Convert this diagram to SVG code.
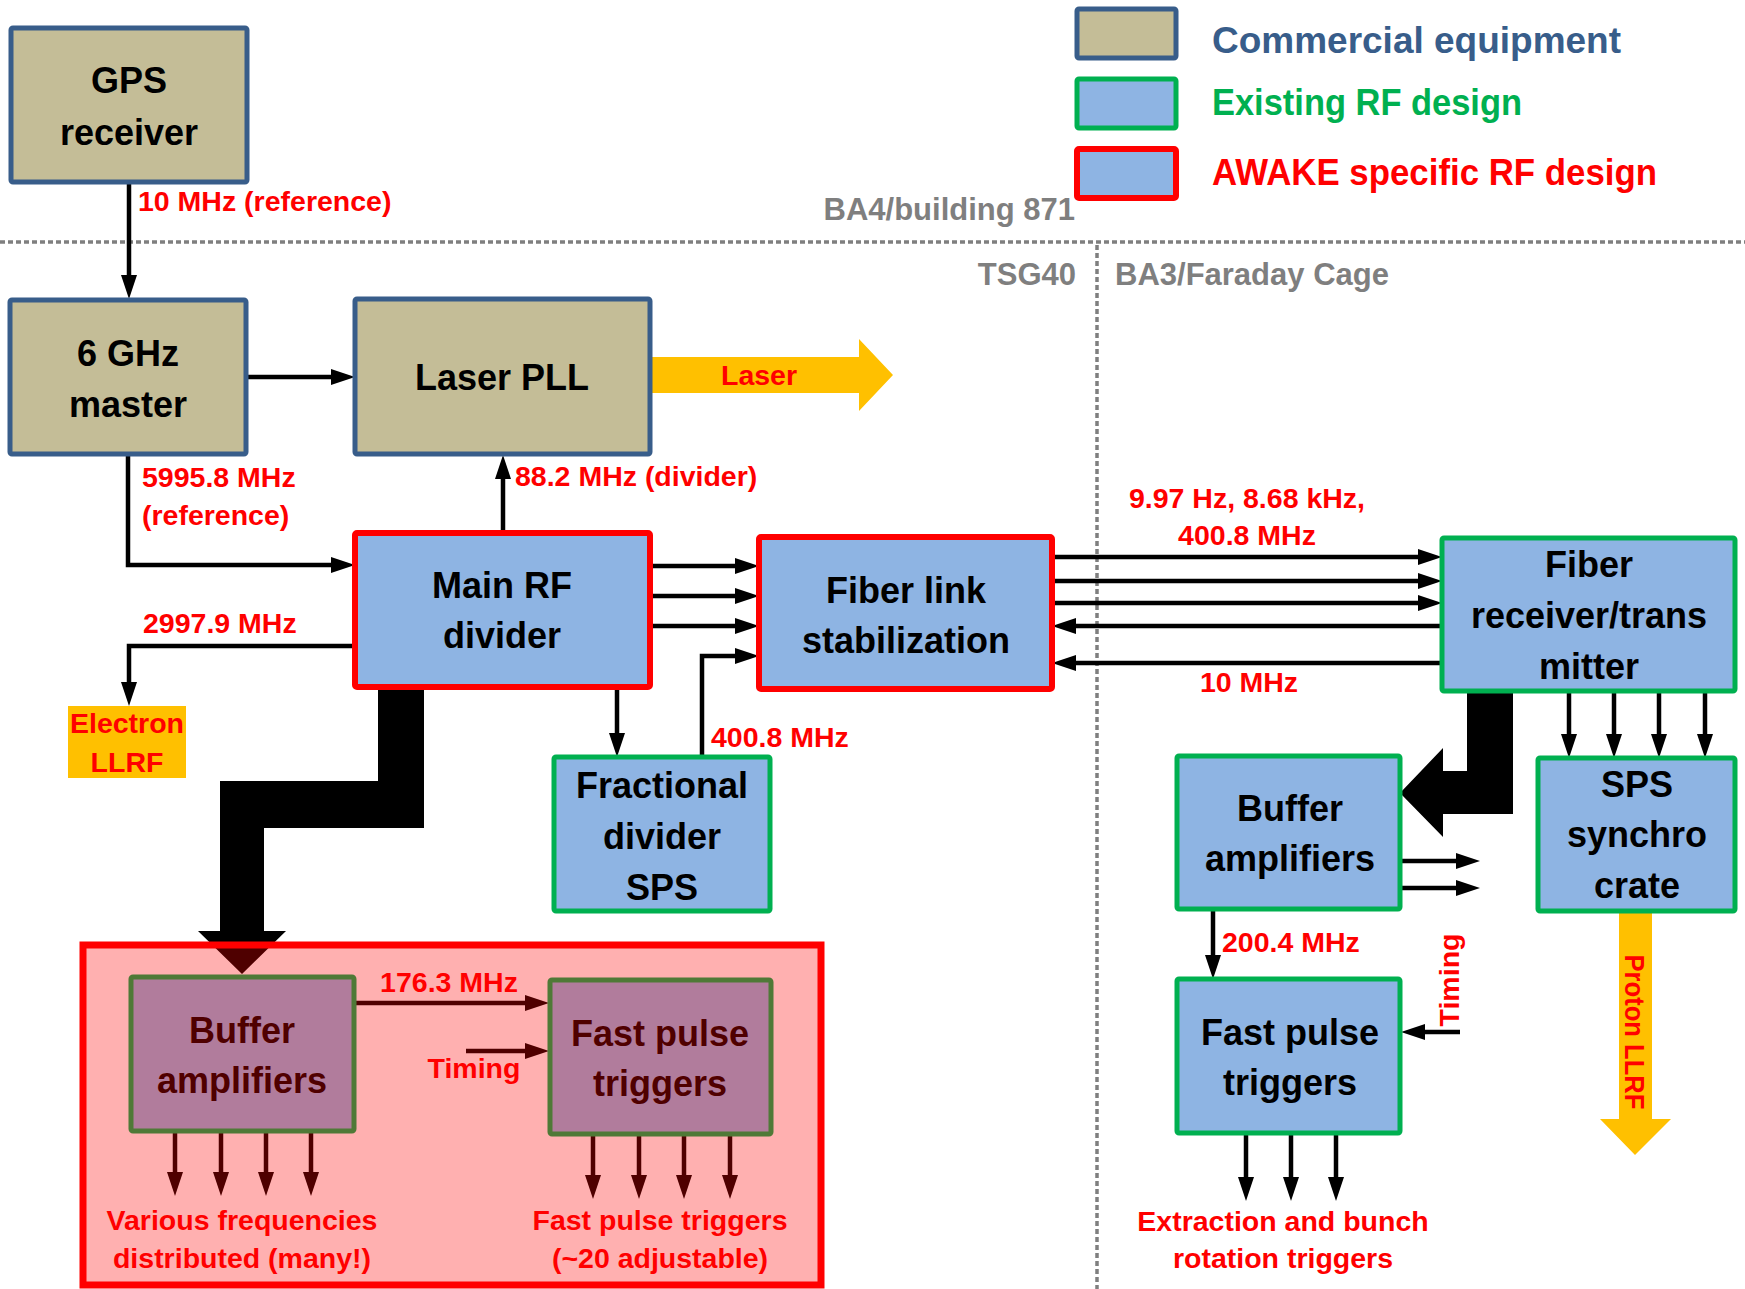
<svg xmlns="http://www.w3.org/2000/svg" width="1745" height="1289" viewBox="0 0 1745 1289">
<defs>
<style>
text{font-family:"Liberation Sans",Arial,sans-serif;font-weight:bold}
.nt{font-size:36px;fill:#000;text-anchor:middle}
.lb{font-size:28.5px;fill:#FF0000}
.gy{font-size:31px;fill:#7F7F7F}
.com{fill:#C4BD97;stroke:#385D8A;stroke-width:5}
.ex{fill:#8EB4E3;stroke:#00B050;stroke-width:5}
.aw{fill:#8EB4E3;stroke:#FF0000;stroke-width:6}
.ln{fill:none;stroke:#000;stroke-width:4.5;marker-end:url(#ah)}
.dot{stroke:#7F7F7F;fill:none;stroke-dasharray:5 3}
</style>
<marker id="ah" markerUnits="userSpaceOnUse" markerWidth="24" markerHeight="16" refX="14" refY="8" orient="auto">
<path d="M0,0 L24,8 L0,16 z" fill="#000"/>
</marker>
</defs>
<rect width="1745" height="1289" fill="#fff"/>

<!-- zone lines -->
<g id="zones">
<line class="dot" x1="0" y1="242" x2="1745" y2="242" stroke-width="3.5"/>
<line class="dot" x1="1097" y1="245" x2="1097" y2="1289" stroke-width="3.5"/>
<text class="gy" x="1075" y="220" text-anchor="end">BA4/building 871</text>
<text class="gy" x="1076" y="285" text-anchor="end">TSG40</text>
<text class="gy" x="1115" y="285">BA3/Faraday Cage</text>
</g>

<!-- legend -->
<g id="legend">
<rect class="com" x="1077" y="9" width="99" height="49" rx="2"/>
<rect class="ex" x="1077" y="79" width="99" height="49" rx="2"/>
<rect class="aw" x="1077" y="149" width="99" height="49" rx="2"/>
<text x="1212" y="53" font-size="36" fill="#385D8A" textLength="409" lengthAdjust="spacingAndGlyphs">Commercial equipment</text>
<text x="1212" y="115" font-size="36" fill="#00B050" textLength="310" lengthAdjust="spacingAndGlyphs">Existing RF design</text>
<text x="1212" y="185" font-size="36" fill="#FF0000" textLength="445" lengthAdjust="spacingAndGlyphs">AWAKE specific RF design</text>
</g>

<!-- connectors -->
<g id="connectors">
<path class="ln" d="M129,182 L129,289"/>
<path class="ln" d="M246,377 L345,377"/>
<path class="ln" d="M128,454 L128,565 L345,565"/>
<path class="ln" d="M503,533 L503,465"/>
<path class="ln" d="M355,646 L129,646 L129,696"/>
<path class="ln" d="M650,566 L749,566"/>
<path class="ln" d="M650,596 L749,596"/>
<path class="ln" d="M650,626 L749,626"/>
<path class="ln" d="M702,757 L702,656 L749,656"/>
<path class="ln" d="M617,688 L617,747"/>
<path class="ln" d="M1052,557 L1432,557"/>
<path class="ln" d="M1052,581 L1432,581"/>
<path class="ln" d="M1052,603 L1432,603"/>
<path class="ln" d="M1442,626 L1062,626"/>
<path class="ln" d="M1442,663 L1062,663"/>
<path class="ln" d="M1569,691 L1569,748"/>
<path class="ln" d="M1614,691 L1614,748"/>
<path class="ln" d="M1659,691 L1659,748"/>
<path class="ln" d="M1705,691 L1705,748"/>
<path class="ln" d="M1401,861 L1470,861"/>
<path class="ln" d="M1401,888 L1470,888"/>
<path class="ln" d="M1213,909 L1213,969"/>
<path class="ln" d="M1460,1032 L1411,1032"/>
<path class="ln" d="M1246,1134 L1246,1191"/>
<path class="ln" d="M1291,1134 L1291,1191"/>
<path class="ln" d="M1336,1134 L1336,1191"/>
<path class="ln" d="M354,1003 L539,1003"/>
<path class="ln" d="M466,1051 L539,1051"/>
<path class="ln" d="M175,1131 L175,1186"/>
<path class="ln" d="M221,1131 L221,1186"/>
<path class="ln" d="M266,1131 L266,1186"/>
<path class="ln" d="M311,1131 L311,1186"/>
<path class="ln" d="M593,1134 L593,1189"/>
<path class="ln" d="M639,1134 L639,1189"/>
<path class="ln" d="M684,1134 L684,1189"/>
<path class="ln" d="M730,1134 L730,1189"/>
<polygon points="378,688 424,688 424,828 264,828 264,931 286,931 242,974 198,931 220,931 220,781 378,781" fill="#000"/>
<polygon points="1467,691 1513,691 1513,814 1443,814 1443,837 1400,793 1443,748 1443,771 1467,771" fill="#000"/>
<polygon points="650,357 859,357 859,339 893,375 859,411 859,393 650,393" fill="#FFC000"/>
<polygon points="1619,911 1652,911 1652,1119 1671,1119 1635,1155 1600,1119 1619,1119" fill="#FFC000"/>
<text class="lb" x="138" y="211">10 MHz (reference)</text>
<text class="lb" x="142" y="487">5995.8 MHz</text>
<text class="lb" x="142" y="525">(reference)</text>
<text class="lb" x="515" y="486">88.2 MHz (divider)</text>
<text class="lb" x="143" y="633">2997.9 MHz</text>
<text class="lb" x="711" y="747">400.8 MHz</text>
<text class="lb" x="1247" y="508" text-anchor="middle">9.97 Hz, 8.68 kHz,</text>
<text class="lb" x="1247" y="545" text-anchor="middle">400.8 MHz</text>
<text class="lb" x="1249" y="692" text-anchor="middle">10 MHz</text>
<text class="lb" x="1222" y="952">200.4 MHz</text>
<text class="lb" x="759" y="385" text-anchor="middle" font-size="25">Laser</text>
<text class="lb" transform="translate(1625,1032) rotate(90)" text-anchor="middle" font-size="26" textLength="155" lengthAdjust="spacingAndGlyphs">Proton LLRF</text>
<text class="lb" transform="translate(1459,980) rotate(-90)" text-anchor="middle" font-size="27">Timing</text>
<text class="lb" x="449" y="992" text-anchor="middle">176.3 MHz</text>
<text class="lb" x="474" y="1078" text-anchor="middle" font-size="27">Timing</text>
<text class="lb" x="242" y="1230" text-anchor="middle">Various frequencies</text>
<text class="lb" x="242" y="1268" text-anchor="middle">distributed (many!)</text>
<text class="lb" x="660" y="1230" text-anchor="middle">Fast pulse triggers</text>
<text class="lb" x="660" y="1268" text-anchor="middle">(~20 adjustable)</text>
<text class="lb" x="1283" y="1231" text-anchor="middle">Extraction and bunch</text>
<text class="lb" x="1283" y="1268" text-anchor="middle">rotation triggers</text>
</g>

<!-- nodes -->
<g id="gps-receiver">
<rect class="com" x="11" y="28" width="236" height="154" rx="2"/>
<text class="nt" x="129" y="93">GPS</text>
<text class="nt" x="129" y="145">receiver</text>
</g>
<g id="master-6ghz">
<rect class="com" x="10" y="300" width="236" height="154" rx="2"/>
<text class="nt" x="128" y="366">6 GHz</text>
<text class="nt" x="128" y="417">master</text>
</g>
<g id="laser-pll">
<rect class="com" x="355" y="299" width="295" height="155" rx="2"/>
<text class="nt" x="502" y="390">Laser PLL</text>
</g>
<g id="main-rf-divider">
<rect class="aw" x="355" y="533" width="295" height="154" rx="2"/>
<text class="nt" x="502" y="598">Main RF</text>
<text class="nt" x="502" y="648">divider</text>
</g>
<g id="electron-llrf">
<rect x="68" y="706" width="118" height="72" fill="#FFC000"/>
<text class="lb" x="127" y="733" text-anchor="middle" font-size="27">Electron</text>
<text class="lb" x="127" y="772" text-anchor="middle" font-size="27">LLRF</text>
</g>
<g id="fiber-link-stabilization">
<rect class="aw" x="759" y="537" width="293" height="152" rx="2"/>
<text class="nt" x="906" y="603">Fiber link</text>
<text class="nt" x="906" y="653">stabilization</text>
</g>
<g id="fractional-divider-sps">
<rect class="ex" x="554" y="757" width="216" height="154" rx="2"/>
<text class="nt" x="662" y="798">Fractional</text>
<text class="nt" x="662" y="849">divider</text>
<text class="nt" x="662" y="900">SPS</text>
</g>
<g id="fiber-receiver-transmitter">
<rect class="ex" x="1442" y="538" width="293" height="153" rx="2"/>
<text class="nt" x="1589" y="577">Fiber</text>
<text class="nt" x="1589" y="628">receiver/trans</text>
<text class="nt" x="1589" y="679">mitter</text>
</g>
<g id="buffer-amplifiers-ba3">
<rect class="ex" x="1177" y="756" width="223" height="153" rx="2"/>
<text class="nt" x="1290" y="821">Buffer</text>
<text class="nt" x="1290" y="871">amplifiers</text>
</g>
<g id="sps-synchro-crate">
<rect class="ex" x="1538" y="758" width="197" height="153" rx="2"/>
<text class="nt" x="1637" y="797">SPS</text>
<text class="nt" x="1637" y="847">synchro</text>
<text class="nt" x="1637" y="898">crate</text>
</g>
<g id="fast-pulse-triggers-ba3">
<rect class="ex" x="1177" y="979" width="223" height="154" rx="2"/>
<text class="nt" x="1290" y="1045">Fast pulse</text>
<text class="nt" x="1290" y="1095">triggers</text>
</g>
<g id="buffer-amplifiers-tsg40">
<rect class="ex" x="131" y="977" width="223" height="154" rx="2"/>
<text class="nt" x="242" y="1043">Buffer</text>
<text class="nt" x="242" y="1093">amplifiers</text>
</g>
<g id="fast-pulse-triggers-tsg40">
<rect class="ex" x="550" y="980" width="221" height="154" rx="2"/>
<text class="nt" x="660" y="1046">Fast pulse</text>
<text class="nt" x="660" y="1096">triggers</text>
</g>
<g id="awake-container">
<rect x="83" y="945" width="738" height="340" fill="#FF0000" fill-opacity="0.31" stroke="#FF0000" stroke-width="7"/>
</g>
</svg>
